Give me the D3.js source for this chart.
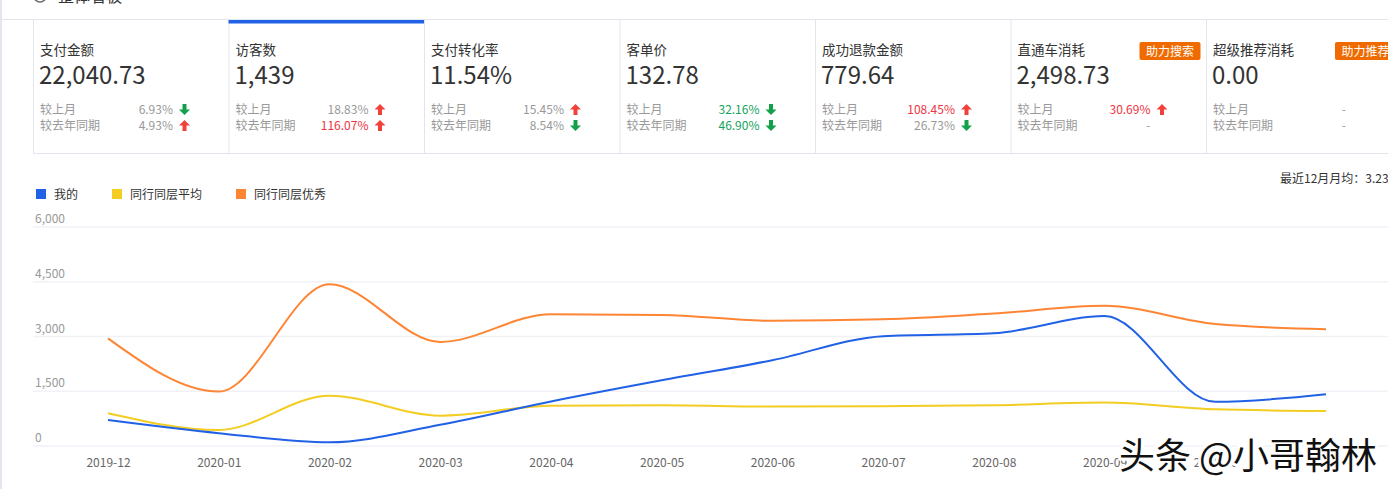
<!doctype html>
<html lang="zh">
<head>
  <meta charset="UTF-8">
  <title>整体看板</title>
  <style>
    html, body { margin: 0; padding: 0; background: #fff; }
    #app { position: relative; width: 1388px; height: 489px; overflow: hidden; }
    text { font-family: "Noto Sans CJK SC", "Microsoft YaHei", sans-serif; }
  </style>
</head>
<body>
<div id="app"></div>
<script src="https://cdn.jsdelivr.net/npm/d3@7/dist/d3.min.js"></script>
<script>
  // chart data
  var months = ['2019-12', '2020-01', '2020-02', '2020-03', '2020-04', '2020-05',
                '2020-06', '2020-07', '2020-08', '2020-09', '2020-10', '2020-11'];
  var mine    = [710, 350, 100, 580, 1220, 1800, 2350, 3010, 3090, 3560, 1210, 1420];
  var avgPeer = [900, 440, 1380, 830, 1100, 1115, 1080, 1090, 1115, 1190, 1005, 960];
  var topPeer = [2950, 1490, 4430, 2850, 3610, 3590, 3430, 3470, 3630, 3840, 3340, 3200];
  var yTicks = [0, 1500, 3000, 4500, 6000];
  var seriesNames = ['我的', '同行同层平均', '同行同层优秀'];
  var seriesColors = ['#2161e6', '#f3cd22', '#fe8534'];

  // card data
  var cardTitles = ['支付金额', '访客数', '支付转化率', '客单价', '成功退款金额', '直通车消耗', '超级推荐消耗'];
  var cardValues = ['22,040.73', '1,439', '11.54%', '132.78', '779.64', '2,498.73', '0.00'];
  var monthChange = ['6.93%', '18.83%', '15.45%', '32.16%', '108.45%', '30.69%', '-'];
  var monthDir    = ['down', 'up', 'up', 'down', 'up', 'up', ''];
  var monthTone   = ['', '', '', 'green', 'red', 'red', ''];
  var yearChange  = ['4.93%', '116.07%', '8.54%', '46.90%', '26.73%', '-', '-'];
  var yearDir     = ['up', 'up', 'down', 'down', 'down', '', ''];
  var yearTone    = ['', 'red', '', 'green', '', '', ''];
  var badges      = ['', '', '', '', '', '助力搜索', '助力推荐'];

  var width = 1388;
  var height = 489;
  var svg = d3.select('#app')
              .append('svg')
              .attr('width', width)
              .attr('height', height);

  // page frame
  svg.append('rect').attr('x', 0).attr('y', 0).attr('width', 2).attr('height', height).attr('fill', '#e3e7ed');
  svg.append('text').attr('x', 58).attr('y', 2).attr('font-size', 16).attr('fill', '#333').text('整体看板');
  svg.append('circle').attr('cx', 40).attr('cy', -4).attr('r', 6).attr('fill', 'none').attr('stroke', '#666').attr('stroke-width', 1.5);

  // cards
  var cardX0 = 33, cardW = 195.5, cardTop = 20, cardBottom = 153;
  var toneColor = { '': '#999', red: '#f0343f', green: '#14a35a' };

  svg.append('line').attr('x1', 2).attr('x2', width).attr('y1', 19.5).attr('y2', 19.5).attr('stroke', '#e2e6ec');
  svg.append('line').attr('x1', cardX0).attr('x2', width).attr('y1', cardBottom + 0.5).attr('y2', cardBottom + 0.5).attr('stroke', '#e2e6ec');

  var cards = svg.selectAll('g.card')
    .data(cardTitles)
    .enter()
    .append('g')
    .attr('class', 'card')
    .attr('transform', (d, i) => 'translate(' + (cardX0 + i * cardW) + ',0)');

  cards.append('line')
    .attr('x1', 0.5).attr('x2', 0.5)
    .attr('y1', cardTop).attr('y2', cardBottom)
    .attr('stroke', '#e2e6ec');

  cards.filter((d, i) => i === 1)
    .append('rect')
    .attr('x', 0).attr('y', cardTop).attr('width', cardW).attr('height', 3.5)
    .attr('fill', '#2161e6');

  cards.append('text')
    .attr('x', 7).attr('y', 55)
    .attr('font-size', 13.5).attr('fill', '#333')
    .text(d => d);

  cards.append('text')
    .attr('x', 6).attr('y', 84)
    .attr('font-size', 24).attr('fill', '#333')
    .text((d, i) => cardValues[i]);

  cards.each(function(d, i) {
    var g = d3.select(this);
    if (badges[i]) {
      var b = g.append('g').attr('transform', 'translate(129,42)');
      b.append('rect').attr('width', 61).attr('height', 18).attr('rx', 2).attr('fill', '#ef6b00');
      b.append('text').attr('x', 30.5).attr('y', 13.5).attr('text-anchor', 'middle')
        .attr('font-size', 12).attr('fill', '#fff').text(badges[i]);
    }
    var rows = [
      { label: '较上月', val: monthChange[i], dir: monthDir[i], tone: monthTone[i], y: 114 },
      { label: '较去年同期', val: yearChange[i], dir: yearDir[i], tone: yearTone[i], y: 130 }
    ];
    rows.forEach(function(r) {
      g.append('text').attr('x', 7).attr('y', r.y).attr('font-size', 12).attr('fill', '#999').text(r.label);
      g.append('text').attr('x', 140).attr('y', r.y).attr('text-anchor', 'end')
        .attr('font-size', 12).attr('fill', toneColor[r.tone]).text(r.val);
      if (r.dir) {
        var cx = 151.5, top = r.y - 10;
        var pts = r.dir === 'up'
          ? [[cx, top], [cx + 5.5, top + 5.5], [cx + 2, top + 5.5], [cx + 2, top + 11], [cx - 2, top + 11], [cx - 2, top + 5.5], [cx - 5.5, top + 5.5]]
          : [[cx, top + 11], [cx + 5.5, top + 5.5], [cx + 2, top + 5.5], [cx + 2, top], [cx - 2, top], [cx - 2, top + 5.5], [cx - 5.5, top + 5.5]];
        g.append('polygon')
          .attr('points', pts.map(p => p.join(',')).join(' '))
          .attr('fill', r.dir === 'up' ? '#f2403a' : '#13a04a');
      }
    });
  });

  // right note
  svg.append('text').attr('x', 1280).attr('y', 183).attr('font-size', 12).attr('fill', '#333').text('最近12月月均：3.23');

  // legend
  var legend = svg.selectAll('g.legend')
    .data(seriesNames)
    .enter()
    .append('g')
    .attr('class', 'legend')
    .attr('transform', (d, i) => 'translate(' + [36, 112, 236][i] + ',189)');
  legend.append('rect').attr('width', 10).attr('height', 10).attr('fill', (d, i) => seriesColors[i]);
  legend.append('text').attr('x', 18).attr('y', 9.5).attr('font-size', 12).attr('fill', '#333').text(d => d);

  // line chart
  var x = d3.scalePoint().domain(months).range([108, 1326]);
  var y = d3.scaleLinear().domain([0, 6000]).range([446, 227]);

  var grid = svg.append('g').attr('class', 'grid');
  grid.selectAll('line')
    .data(yTicks)
    .enter()
    .append('line')
    .attr('x1', 33).attr('x2', width)
    .attr('y1', d => y(d)).attr('y2', d => y(d))
    .attr('stroke', '#f1f2f8').attr('stroke-width', 1.5);
  grid.selectAll('text')
    .data(yTicks)
    .enter()
    .append('text')
    .attr('x', 35).attr('y', d => y(d) - 4)
    .attr('font-size', 12).attr('fill', '#999')
    .text(d => d3.format(',')(d));

  var xAxis = svg.append('g')
    .attr('transform', 'translate(0,' + 454 + ')')
    .call(d3.axisBottom(x).tickSize(0).tickPadding(4));
  xAxis.select('.domain').remove();
  xAxis.selectAll('text')
    .attr('font-size', 12).attr('fill', '#666')
    .style('font-family', '"Noto Sans CJK SC", sans-serif');

  var line = d3.line()
    .x((d, i) => x(months[i]))
    .y(d => y(d))
    .curve(d3.curveMonotoneX);

  svg.selectAll('path.series')
    .data([topPeer, avgPeer, mine])
    .enter()
    .append('path')
    .attr('class', 'series')
    .attr('d', line)
    .attr('fill', 'none')
    .attr('stroke', (d, i) => seriesColors[2 - i])
    .attr('stroke-width', 2);

  // watermark (covers the last axis labels, as in the screenshot)
  svg.append('rect').attr('x', 1290).attr('y', 452).attr('width', 70).attr('height', 20).attr('fill', '#fff');
  svg.append('text')
    .attr('x', 1119).attr('y', 469)
    .attr('font-size', 36).attr('fill', '#111')
    .attr('stroke', '#fff').attr('stroke-width', 6)
    .style('paint-order', 'stroke')
    .text('头条 @小哥翰林');
</script>
</body>
</html>
